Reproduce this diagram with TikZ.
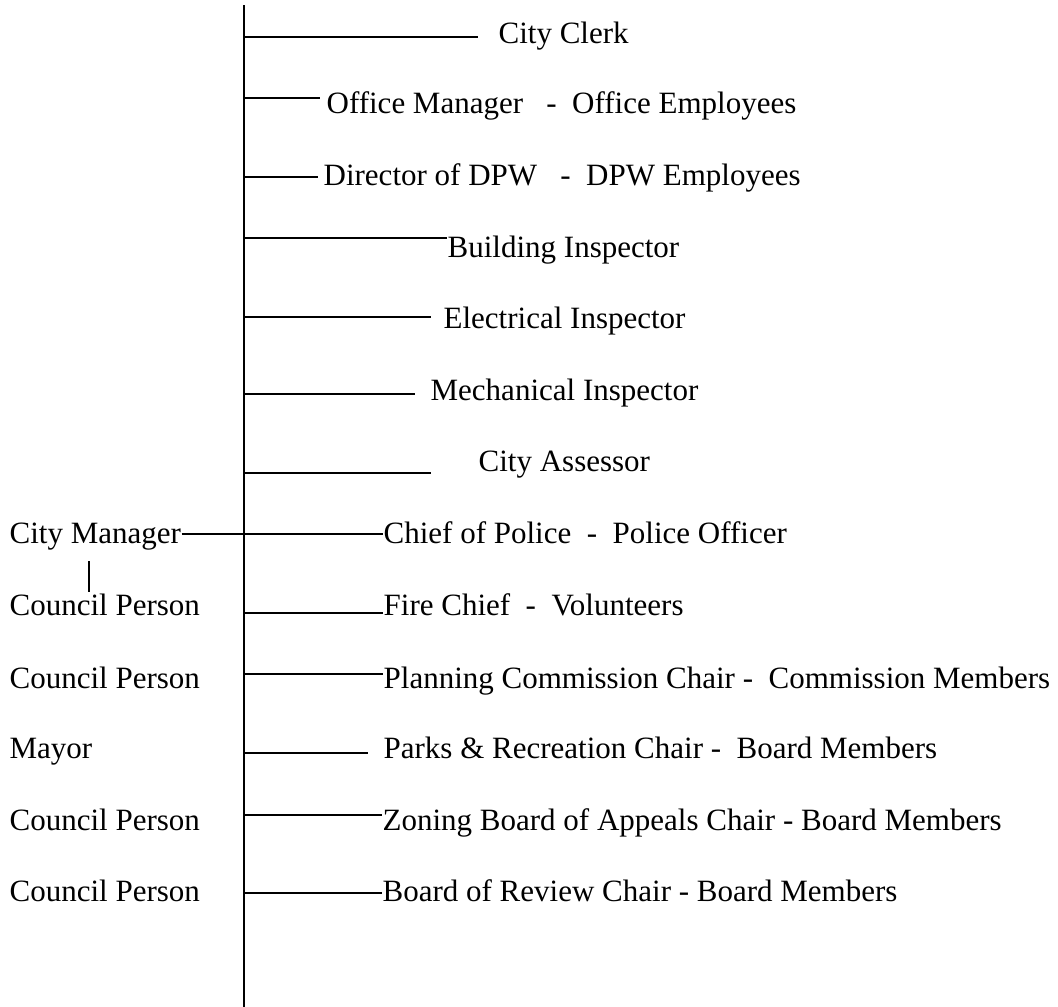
\documentclass[tikz,border=0pt]{standalone}
\usepackage{fontspec}
\setmainfont{Liberation Serif}
\usetikzlibrary{positioning}

\begin{document}
\begin{tikzpicture}[x=1pt, y=-1pt, line width=1.3pt,
    lbl/.style={anchor=base west, inner sep=0pt, font=\fontsize{31}{36}\selectfont}]
        \useasboundingbox (0,0) rectangle (1058,1007);
        % Tronc vertical
        \def\trunkx{244}
        \coordinate (top) at (\trunkx,5);
        \coordinate (bot) at (\trunkx,1007);
        \draw (top) -- (bot);

        % City Clerk
        \node[lbl] (clerk) at (498,43) {City Clerk};
        \coordinate (clerkL) at (478,37);
        \draw (top |- clerkL) -- (clerkL);

        % Office Manager
        \node[lbl] (office) at (326,113) {Office Manager\ \ \ -\ \ Office Employees};
        \coordinate (officeL) at (320,98);
        \draw (top |- officeL) -- (officeL);

        % Director of DPW
        \node[lbl] (dpw) at (323,185) {Director of DPW\ \ \ -\ \ DPW Employees};
        \coordinate (dpwL) at (318,177);
        \draw (top |- dpwL) -- (dpwL);

        % Building Inspector
        \node[lbl] (building) at (447,257) {Building Inspector};
        \coordinate (buildingL) at (447,238);
        \draw (top |- buildingL) -- (buildingL);

        % Electrical Inspector
        \node[lbl] (electrical) at (443,328) {Electrical Inspector};
        \coordinate (electricalL) at (431,317);
        \draw (top |- electricalL) -- (electricalL);

        % Mechanical Inspector
        \node[lbl] (mechanical) at (430,400) {Mechanical Inspector};
        \coordinate (mechanicalL) at (415,394);
        \draw (top |- mechanicalL) -- (mechanicalL);

        % City Assessor
        \node[lbl] (assessor) at (478,471) {City Assessor};
        \coordinate (assessorL) at (431,473);
        \draw (top |- assessorL) -- (assessorL);

        % City Manager - Chief of Police
        \node[lbl] (manager) at (9,543) {City Manager};
        \node[lbl] (police) at (383,543) {Chief of Police\ \ -\ \ Police Officer};
        \coordinate (policeL) at (383,534);
        \draw (manager.east |- policeL) -- (policeL);

        % petit trait City Manager / Council Person
        \coordinate (tickT) at (89,561);
        \coordinate (tickB) at (89,592);
        \draw (tickT) -- (tickB);

        % Council Person - Fire Chief
        \node[lbl] (council1) at (9,615) {Council Person};
        \node[lbl] (fire) at (383,615) {Fire Chief\ \ -\ \ Volunteers};
        \coordinate (fireL) at (383,613);
        \draw (top |- fireL) -- (fireL);

        % Council Person - Planning Commission
        \node[lbl] (council2) at (9,688) {Council Person};
        \node[lbl] (planning) at (383,688) {Planning Commission Chair -\ \ Commission Members};
        \coordinate (planningL) at (383,674);
        \draw (top |- planningL) -- (planningL);

        % Mayor - Parks & Recreation
        \node[lbl] (mayor) at (9,758) {Mayor};
        \node[lbl] (parks) at (383,758) {Parks \& Recreation Chair -\ \ Board Members};
        \coordinate (parksL) at (368,753);
        \draw (top |- parksL) -- (parksL);

        % Council Person - Zoning Board of Appeals
        \node[lbl] (council3) at (9,830) {Council Person};
        \node[lbl] (zoning) at (382,830) {Zoning Board of Appeals Chair - Board Members};
        \coordinate (zoningL) at (382,815);
        \draw (top |- zoningL) -- (zoningL);

        % Council Person - Board of Review
        \node[lbl] (council4) at (9,901) {Council Person};
        \node[lbl] (review) at (382,901) {Board of Review Chair - Board Members};
        \coordinate (reviewL) at (382,893);
        \draw (top |- reviewL) -- (reviewL);
    \end{tikzpicture}
\end{document}
